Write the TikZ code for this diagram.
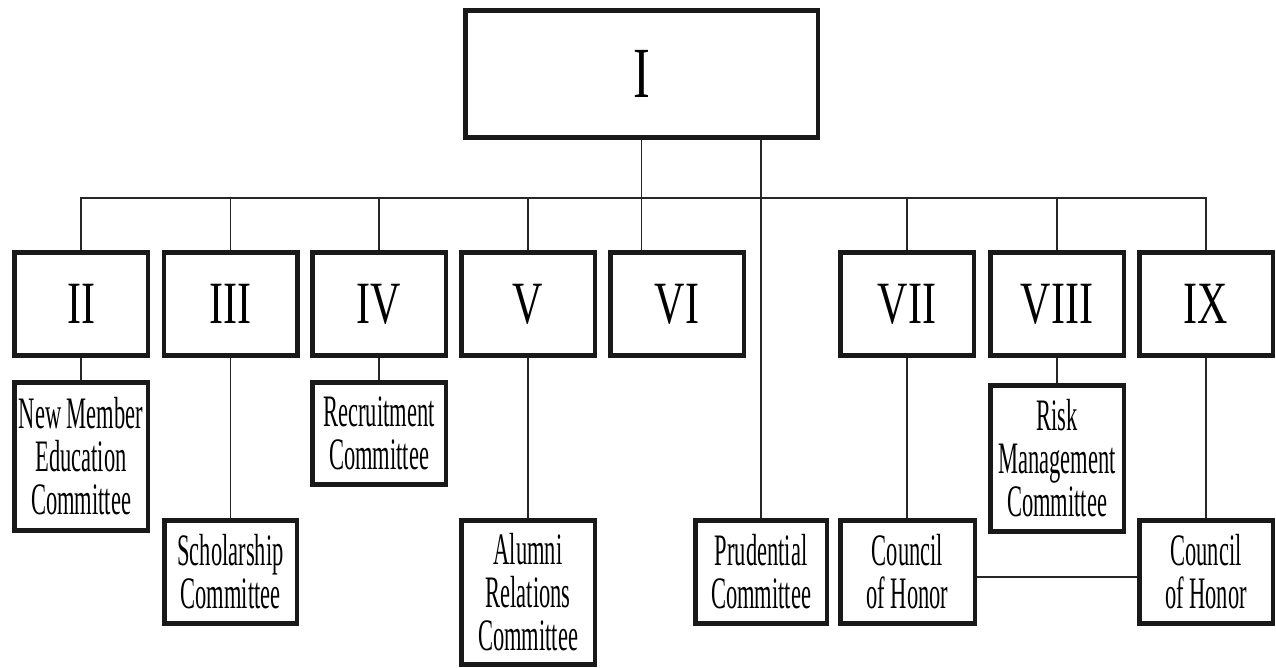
\documentclass[tikz,border=0pt]{standalone}
\usepackage{fontspec}
\newfontfamily\numfont[FakeStretch=0.7]{Liberation Serif}
\newfontfamily\comfont[FakeStretch=0.5]{Liberation Serif}
\begin{document}
\begin{tikzpicture}[x=1pt,y=-1pt,
 conn/.style={line width=1.2pt, draw=black!85},
 orgbox/.style={draw=black!90, line width=4.5pt, fill=white, inner sep=0pt, rectangle,
   path picture={\fill[black!90] (path picture bounding box.north west) rectangle ([yshift=-3pt]path picture bounding box.north east);
                 \fill[black!90] (path picture bounding box.south west) rectangle ([yshift=3pt]path picture bounding box.south east);}},
 numbox/.style={orgbox, font=\numfont\fontsize{60}{60}\selectfont, minimum width=133.5pt, minimum height=103.5pt},
 combox/.style={orgbox, font=\comfont\fontsize{45}{43}\selectfont, align=center}
]
\fill[white] (0,0) rectangle (1276,668);
\useasboundingbox (0,0) rectangle (1276,668);

\node[orgbox, font=\numfont\fontsize{72}{72}\selectfont, minimum width=352.5pt, minimum height=127.5pt] (I) at (641.5,74) {I};

\node[numbox] (II) at (81,304) {II};
\node[numbox] (III) at (230.5,304) {III};
\node[numbox] (IV) at (379,304) {IV};
\node[numbox] (V) at (528,304) {V};
\node[numbox] (VI) at (677,304) {VI};
\node[numbox] (VII) at (907,304) {VII};
\node[numbox] (VIII) at (1057,304) {VIII};
\node[numbox] (IX) at (1206,304) {IX};

\node[combox, minimum width=133.5pt, minimum height=148.5pt] (NM) at (81,456.5) {New Member\\Education\\Committee};
\node[combox, minimum width=132.5pt, minimum height=103.5pt] (SC) at (230.5,572) {Scholarship\\Committee};
\node[combox, minimum width=133.5pt, minimum height=102.5pt] (RC) at (379,433.5) {Recruitment\\Committee};
\node[combox, minimum width=133.5pt, minimum height=144.5pt] (AR) at (528,592.5) {Alumni\\Relations\\Committee};
\node[combox, minimum width=131.5pt, minimum height=103.5pt] (PC) at (761,572) {Prudential\\Committee};
\node[combox, minimum width=134.5pt, minimum height=103.5pt] (CH7) at (907.5,572) {Council\\of Honor};
\node[combox, minimum width=133.5pt, minimum height=146.5pt] (RM) at (1057,458.5) {Risk\\Management\\Committee};
\node[combox, minimum width=133.5pt, minimum height=103.5pt] (CH9) at (1206,572) {Council\\of Honor};

\coordinate (bar) at (0,198);
\draw[conn] (II.north) -- (II.north |- bar) -- (IX.north |- bar) -- (IX.north);
\foreach \n in {III,IV,V,VII,VIII} \draw[conn] (\n.north) -- (\n.north |- bar);
\draw[conn] (I.south) -- (I.south |- VI.north);
\draw[conn] (PC.north |- I.south) -- (PC.north);

\draw[conn] (II.south) -- (NM.north);
\draw[conn] (III.south) -- (SC.north);
\draw[conn] (IV.south) -- (RC.north);
\draw[conn] (V.south) -- (AR.north);
\draw[conn] (VII.south) -- (CH7.north -| VII.south);
\draw[conn] (VIII.south) -- (RM.north);
\draw[conn] (IX.south) -- (CH9.north);
\draw[conn] ([yshift=-5pt]CH7.east) -- ([yshift=-5pt]CH9.west);
\end{tikzpicture}
\end{document}
